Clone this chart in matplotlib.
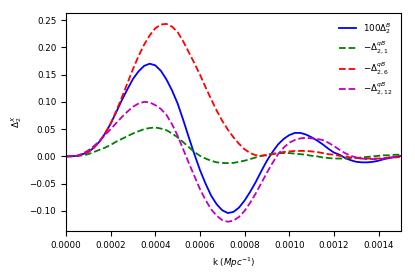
import numpy as np
import matplotlib
matplotlib.use('Agg')
import matplotlib.pyplot as plt

# k grid (Mpc^-1), read every 0.000025
k = np.arange(61) * 0.000025

# 100 * Delta_2^B
delta_b = [0.0, 0.0002, 0.001, 0.004, 0.008, 0.016, 0.027, 0.042, 0.060, 0.081,
           0.103, 0.123, 0.142, 0.156, 0.166, 0.170, 0.167, 0.157, 0.141, 0.121,
           0.097, 0.067, 0.035, 0.004, -0.025, -0.050, -0.072, -0.088, -0.099, -0.104,
           -0.102, -0.094, -0.081, -0.065, -0.047, -0.027, -0.008, 0.008, 0.022, 0.032,
           0.039, 0.043, 0.043, 0.040, 0.035, 0.029, 0.022, 0.014, 0.007, 0.003,
           -0.003, -0.007, -0.010, -0.011, -0.011, -0.010, -0.008, -0.005, -0.003, -0.001,
           0.001]
# -Delta_{2,1}^{qB}
delta_q1 = [0.0, 0.0001, 0.0005, 0.002, 0.004, 0.008, 0.012, 0.016, 0.021, 0.027,
            0.032, 0.037, 0.042, 0.046, 0.050, 0.052, 0.053, 0.051, 0.048, 0.042,
            0.035, 0.026, 0.017, 0.008, 0.001, -0.004, -0.008, -0.011, -0.012, -0.0125,
            -0.012, -0.010, -0.008, -0.005, -0.002, 0.001, 0.003, 0.005, 0.006, 0.006,
            0.006, 0.005, 0.004, 0.003, 0.001, 0.000, -0.002, -0.003, -0.004, -0.004,
            -0.004, -0.003, -0.003, -0.002, -0.001, 0.000, 0.001, 0.002, 0.002, 0.003,
            0.003]
# -Delta_{2,6}^{qB}
delta_q6 = [0.0, 0.0002, 0.001, 0.004, 0.008, 0.016, 0.027, 0.042, 0.060, 0.083,
            0.108, 0.134, 0.160, 0.184, 0.205, 0.222, 0.235, 0.242, 0.243, 0.238,
            0.228, 0.211, 0.191, 0.171, 0.150, 0.127, 0.105, 0.084, 0.065, 0.049,
            0.035, 0.023, 0.013, 0.006, 0.002, 0.001, 0.002, 0.004, 0.006, 0.008,
            0.009, 0.010, 0.010, 0.010, 0.009, 0.008, 0.006, 0.004, 0.003, 0.001,
            0.000, -0.002, -0.003, -0.004, -0.004, -0.004, -0.004, -0.003, -0.002, -0.002,
            -0.001]
# -Delta_{2,12}^{qB}
delta_q12 = [0.0, 0.0003, 0.001, 0.005, 0.011, 0.019, 0.028, 0.039, 0.050, 0.061,
             0.072, 0.082, 0.091, 0.097, 0.100, 0.099, 0.094, 0.087, 0.076, 0.059,
             0.038, 0.013, -0.012, -0.036, -0.060, -0.080, -0.097, -0.109, -0.117, -0.120,
             -0.118, -0.111, -0.100, -0.085, -0.068, -0.049, -0.030, -0.012, 0.004, 0.016,
             0.025, 0.030, 0.033, 0.034, 0.033, 0.032, 0.030, 0.025, 0.019, 0.012,
             0.006, 0.001, -0.002, -0.004, -0.005, -0.005, -0.005, -0.004, -0.002, -0.001,
             0.001]

plt.rcParams['font.size'] = 6.3

fig = plt.figure(figsize=(4.15, 2.77), dpi=100)
ax = fig.add_axes([0.159, 0.166, 0.807, 0.787])

ax.plot(k, delta_b, 'b-', lw=1.3, label=r'$100\Delta_2^B$')
ax.plot(k, delta_q1, 'g--', lw=1.3, label=r'$-\Delta_{2,1}^{qB}$')
ax.plot(k, delta_q6, 'r--', lw=1.3, label=r'$-\Delta_{2,6}^{qB}$')
ax.plot(k, delta_q12, 'm--', lw=1.3, label=r'$-\Delta_{2,12}^{qB}$')

ax.set_xlim(0, 0.0015)
ax.set_ylim(-0.137, 0.263)
ax.set_xticks(np.arange(0, 0.00141, 0.0002))
ax.set_xticklabels([f'{v:.4f}' for v in np.arange(0, 0.00141, 0.0002)])
ax.set_yticks(np.arange(-0.10, 0.2501, 0.05))
ax.set_yticklabels([f'{v:.2f}'.replace('-', '\u2212') for v in np.arange(-0.10, 0.2501, 0.05)])
ax.set_xlabel(r'k ($Mpc^{-1}$)')
ax.set_ylabel(r'$\Delta_2^X$')
ax.legend(loc='upper right', frameon=False)

fig.savefig('out.png', dpi=100)
